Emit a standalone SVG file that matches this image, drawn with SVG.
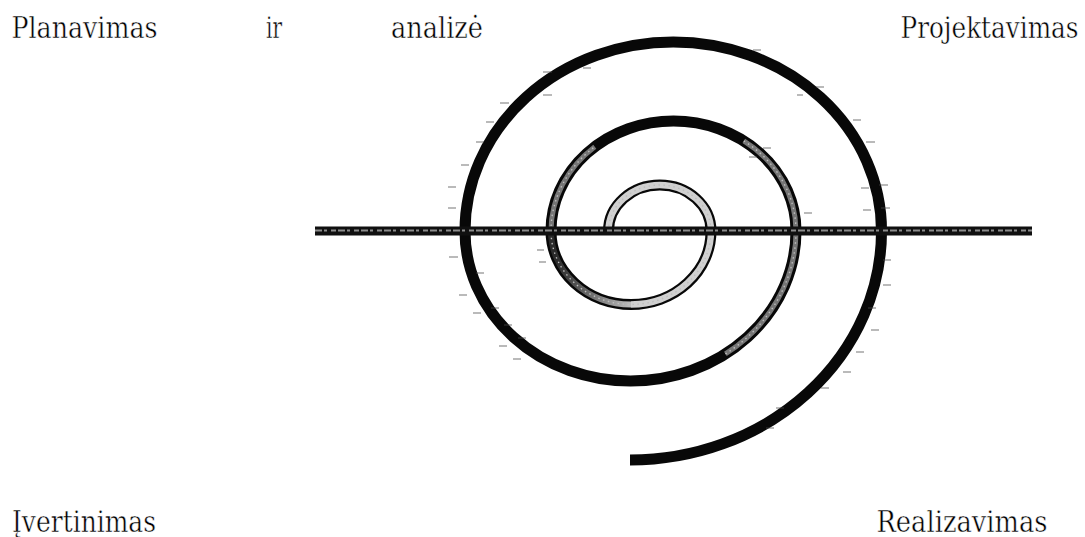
<svg xmlns="http://www.w3.org/2000/svg" width="1085" height="537" viewBox="0 0 1085 537">
  <style>
    text { font-family: 'DejaVu Serif Condensed', 'DejaVu Serif', serif; font-size: 30px; fill: #000; stroke: #fff; stroke-width: 0.45; }
    .spiral { fill: none; stroke: #080808; stroke-width: 11; stroke-linecap: butt; }
    .light { fill: none; stroke: #d0d0d0; stroke-width: 6.5; }
    .mid { fill: none; stroke: #767676; stroke-width: 5; }
    .speck { fill: none; stroke: #bdbdbd; stroke-width: 1.4; stroke-dasharray: 1.5 3.5; }
    .tick { fill: none; stroke: #4a4a4a; stroke-width: 1.2; opacity: 0.75; }
  </style>
  <defs>
    <linearGradient id="fade" gradientUnits="userSpaceOnUse" x1="631" y1="0" x2="556" y2="0">
      <stop offset="0" stop-color="#bdbdbd"/>
      <stop offset="1" stop-color="#2a2a2a"/>
    </linearGradient>
  </defs>
  <rect width="1085" height="537" fill="#fff"/>

  <g id="spiral">
    <path class="spiral" d="M 608.5 231 A 51.25 46 0 0 1 711 231 A 80 73.5 0 0 1 551 231 A 122.5 110 0 0 1 796 231 A 165.5 150 0 0 1 465 231 A 208.25 189 0 0 1 881.5 231 A 251.5 229 0 0 1 630 460"/>
    <path class="light" d="M 608.5 231 A 51.25 46 0 0 1 711 231 A 80 73.5 0 0 1 631 304.5"/>
    <path fill="none" stroke="url(#fade)" stroke-width="6" d="M 631 304.5 A 80 73.5 0 0 1 551 231"/>
    <path class="mid" d="M 551 231 A 122.5 110 0 0 1 594.8 146.7"/>
    <path class="mid" d="M 743.8 140.9 A 122.5 110 0 0 1 796 231 A 165.5 150 0 0 1 725.4 353.9"/>
    <path class="speck" d="M 551 231 A 122.5 110 0 0 1 594.8 146.7"/>
    <path class="speck" d="M 743.8 140.9 A 122.5 110 0 0 1 796 231 A 165.5 150 0 0 1 725.4 353.9"/>
    <path class="speck" d="M 608.5 231 A 51.25 46 0 0 1 711 231 A 80 73.5 0 0 1 551 231"/>
  </g>

  <g id="ticks">
    <path class="tick" d="M 543 72 h 9 M 583 68 h 8 M 543 95 h 9 M 500 103 h 9 M 486 122 h 8 M 476 142 h 8 M 461 165 h 8 M 448 187 h 8 M 448 208 h 8 M 449 257 h 9 M 476 273 h 8 M 459 295 h 8 M 491 308 h 8 M 473 313 h 8 M 504 325 h 8 M 518 338 h 8 M 499 346 h 8 M 513 359 h 8 M 537 250 h 7 M 539 262 h 7 M 753 50 h 8 M 816 87 h 8 M 797 95 h 6 M 853 120 h 8 M 866 142 h 9 M 879 185 h 9 M 861 188 h 8 M 863 210 h 8 M 881 208 h 9 M 763 148 h 8 M 749 157 h 8 M 804 213 h 8 M 883 260 h 8 M 883 285 h 8 M 868 308 h 8 M 871 330 h 8 M 856 352 h 8 M 843 372 h 8 M 821 388 h 8 M 776 408 h 8 M 766 428 h 8"/>
  </g>

  <g id="axis">
    <rect x="315" y="226.5" width="717" height="9" fill="#101010"/>
    <line x1="315" y1="230.5" x2="1032" y2="230.5" stroke="#8c8c8c" stroke-width="1.8" stroke-dasharray="7 2 3 4 5 2"/>
  </g>

  <g id="label-planavimas">
    <text x="11.5" y="37.7" textLength="146" lengthAdjust="spacingAndGlyphs">Planavimas</text>
    <text x="266" y="37.7" textLength="16" lengthAdjust="spacingAndGlyphs">ir</text>
    <text x="391" y="37.7" textLength="92" lengthAdjust="spacingAndGlyphs">analizė</text>
  </g>
  <g id="label-projektavimas">
    <text x="1078.5" y="37.7" text-anchor="end" textLength="178" lengthAdjust="spacingAndGlyphs">Projektavimas</text>
  </g>
  <g id="label-ivertinimas">
    <text x="12" y="531.5" textLength="144" lengthAdjust="spacingAndGlyphs">Įvertinimas</text>
  </g>
  <g id="label-realizavimas">
    <text x="876.5" y="531.5" textLength="171" lengthAdjust="spacingAndGlyphs">Realizavimas</text>
  </g>
</svg>
